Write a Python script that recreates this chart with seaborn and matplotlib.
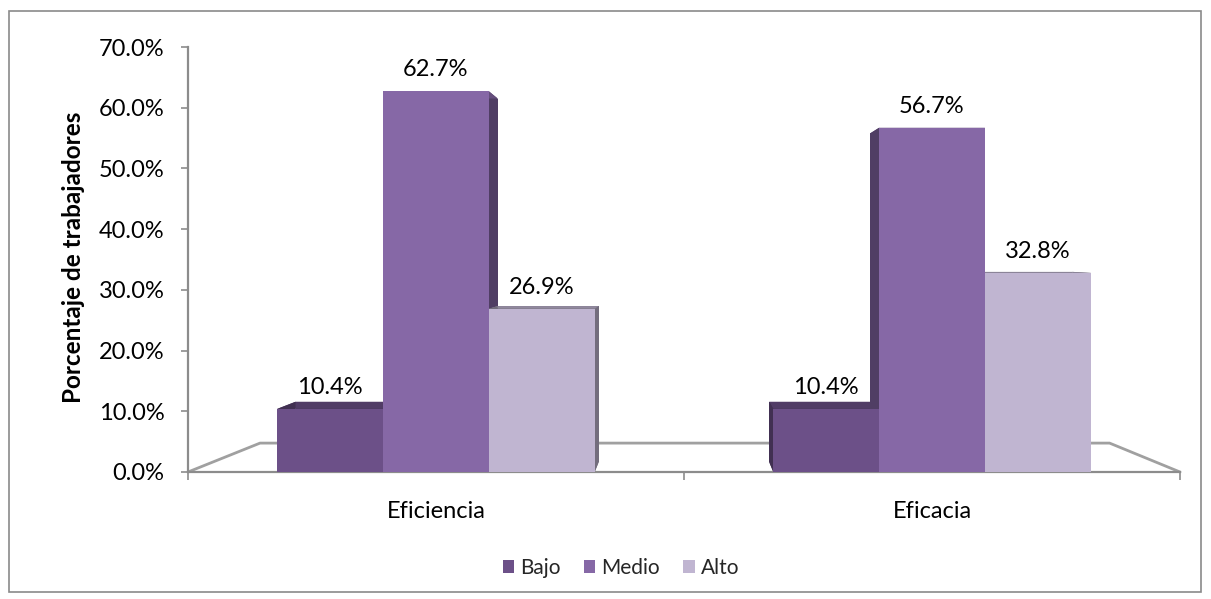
import numpy as np
import pandas as pd
import matplotlib
matplotlib.use("Agg")
import matplotlib.pyplot as plt
import seaborn as sns
from matplotlib.patches import Polygon, Rectangle
from matplotlib.lines import Line2D
from matplotlib.colors import to_rgb
from matplotlib.ticker import FuncFormatter, FixedLocator

# ---------------- data ----------------
categories = ["Eficiencia", "Eficacia"]
levels = ["Bajo", "Medio", "Alto"]
bajo = [10.4, 10.4]
medio = [62.7, 56.7]
alto = [26.9, 32.8]
y_ticks = [0, 10, 20, 30, 40, 50, 60, 70]
y_label = "Porcentaje de trabajadores"
colors = ["#6C5088", "#8668A6", "#C0B5D1"]

df = pd.DataFrame({
    "Dimension": categories * 3,
    "Nivel": [lv for lv in levels for _ in categories],
    "Porcentaje": bajo + medio + alto,
})

sns.set_theme(style="white")
plt.rcParams["font.family"] = ["Lato", "DejaVu Sans"]

W, H = 1211, 599
fig = plt.figure(figsize=(W / 100, H / 100), dpi=100)
ax = fig.add_axes([188 / W, 1 - 472 / H, 992 / W, 425 / H])

sns.barplot(data=df, x="Dimension", y="Porcentaje", hue="Nivel",
            order=categories, hue_order=levels, palette=colors,
            width=0.64, saturation=1, linewidth=0, ax=ax, zorder=3)

ax.set_xlim(-0.5, 1.5)
ax.set_ylim(0, 70)
ax.set_xlabel("")
ax.set_ylabel(y_label, fontsize=17.5, fontweight="bold", color="black")
ax.yaxis.set_label_coords(-0.104, 0.505)

grey = "#8c8c8c"
for s in ["top", "right"]:
    ax.spines[s].set_visible(False)
for s in ["left", "bottom"]:
    ax.spines[s].set_color(grey)
    ax.spines[s].set_linewidth(1.6)

ax.yaxis.set_major_locator(FixedLocator(y_ticks))
ax.yaxis.set_major_formatter(FuncFormatter(lambda v, p: f"{v:.1f}%"))
ax.tick_params(axis="y", which="major", left=True, length=5, width=1.2,
               color=grey, labelsize=17, pad=12, direction="out")
ax.tick_params(axis="x", which="major", bottom=False, labelsize=17, pad=15)
ax.set_xticks([-0.5, 0.5, 1.5], minor=True)
ax.tick_params(axis="x", which="minor", bottom=True, length=6, width=1.2,
               color=grey, direction="out")
for t in ax.get_xticklabels() + ax.get_yticklabels():
    t.set_color("black")

# floor of the 3-D plot (decorative)
floor = Line2D([0, 0.0726, 0.929, 1], [0, 0.068, 0.068, 0],
               transform=ax.transAxes, color="#a0a0a0", lw=2, zorder=1,
               clip_on=False)
ax.add_line(floor)

# 3-D depth of the bars, derived from each bar's geometry
fig.canvas.draw()
V = ax.transAxes.transform((0.499, 0.52))
k = 0.045
inv = ax.transData.inverted()


def shade(c, f):
    r, g, b = to_rgb(c)
    return (r * f, g * f, b * f)


for cont, col in zip(ax.containers, colors):
    for bar in cont:
        x0, y0 = bar.get_x(), bar.get_y()
        w, h = bar.get_width(), bar.get_height()
        front = ax.transData.transform([(x0, y0), (x0 + w, y0),
                                        (x0 + w, y0 + h), (x0, y0 + h)])
        back = front + k * (V - front)
        side_c = shade(col, 0.6)
        top_c = shade(col, 0.75)
        faces = [(back, side_c)]
        for i in range(4):
            j = (i + 1) % 4
            quad = np.array([front[i], front[j], back[j], back[i]])
            faces.append((quad, top_c if i == 2 else side_c))
        for pts, fc in faces:
            ax.add_patch(Polygon(inv.transform(pts), closed=True, fc=fc,
                                 ec="none", zorder=2, clip_on=False))

# value labels
for cont in ax.containers:
    ax.bar_label(cont, labels=[f"{v:.1f}%" for v in cont.datavalues],
                 padding=8, fontsize=17, color="black")

# legend
handles, labels = ax.get_legend_handles_labels()
if ax.get_legend() is not None:
    ax.get_legend().remove()
fig.legend(handles, labels, loc="center", bbox_to_anchor=(621 / W, 1 - 568 / H),
           ncol=3, frameon=False, fontsize=15, handlelength=0.55,
           handleheight=0.55, handletextpad=0.3, columnspacing=1.1)

# outer chart border
fig.patches.append(Rectangle((9 / W, 7 / H), 1192 / W, 581 / H,
                             transform=fig.transFigure, fill=False,
                             ec="#8a8a8a", lw=1.2))

fig.savefig("out.png", dpi=100)
